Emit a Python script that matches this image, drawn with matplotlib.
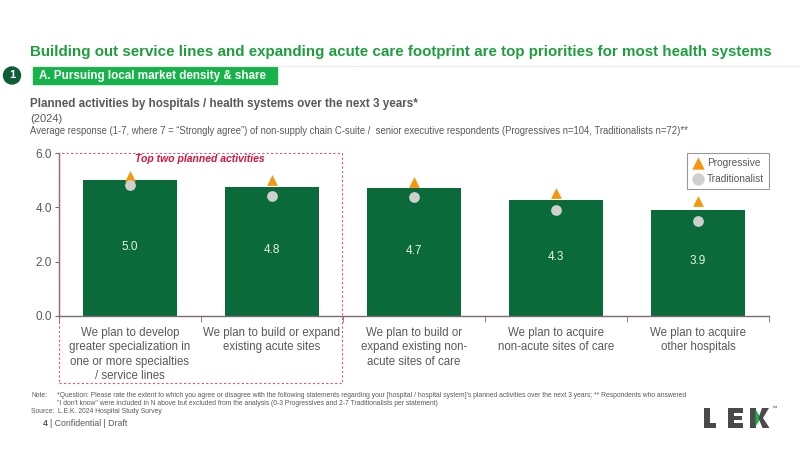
import matplotlib
matplotlib.use("Agg")
import matplotlib.pyplot as plt
from matplotlib.patches import Rectangle, Ellipse, Polygon
from matplotlib.lines import Line2D

plt.rcParams['font.family'] = ['Liberation Sans', 'DejaVu Sans']

categories = [
    "We plan to develop\ngreater specialization in\none or more specialties\n/ service lines",
    "We plan to build or expand\nexisting acute sites",
    "We plan to build or\nexpand existing non-\nacute sites of care",
    "We plan to acquire\nnon-acute sites of care",
    "We plan to acquire\nother hospitals",
]
overall = [5.01, 4.75, 4.70, 4.27, 3.92]
overall_labels = ["5.0", "4.8", "4.7", "4.3", "3.9"]
progressive = [5.17, 4.99, 4.93, 4.53, 4.23]
traditionalist = [4.83, 4.43, 4.38, 3.91, 3.51]
yticks = [0.0, 2.0, 4.0, 6.0]

W, H = 800, 450
fig = plt.figure(figsize=(8, 4.5), dpi=100)
fig.patch.set_facecolor("white")

def fx(px): return px / W
def fy(py): return 1 - py / H
def P(pts): return [(fx(a), fy(b)) for a, b in pts]

GREEN_BAR = "#0b6a3a"
TITLE_GREEN = "#1f9e3f"
GRAY = "#595959"
AXCOL = "#7a6a76"

# Title
fig.text(fx(30), fy(52), "Building out service lines and expanding acute care footprint are top priorities for most health systems",
         fontsize=10.9, fontweight="bold", color=TITLE_GREEN, va="center", ha="left")
fig.add_artist(Line2D([fx(30), fx(800)], [fy(66), fy(66)], color="#ececec", lw=0.8))

# Section marker
fig.add_artist(Ellipse((fx(12), fy(75.5)), width=17/W, height=17/H, transform=fig.transFigure, color="#0b5e35"))
fig.text(fx(12), fy(75.5), "1", color="white", fontsize=8, fontweight="bold", ha="center", va="center")
fig.add_artist(Rectangle((fx(33), fy(84)), (277-33)/W, 17/H, transform=fig.transFigure, color="#16b34a"))
fig.text(fx(39), fy(75.5), "A. Pursuing local market density & share", color="white", fontsize=8.4,
         fontweight="bold", ha="left", va="center")

# Subtitles
fig.text(fx(30), fy(104), "Planned activities by hospitals / health systems over the next 3 years*",
         fontsize=8.4, fontweight="bold", color=GRAY, va="center")
fig.text(fx(30), fy(119), "(2024)", fontsize=8, color=GRAY, va="center")
fig.text(fx(30), fy(131), "Average response (1-7, where 7 = \u201cStrongly agree\u201d) of non-supply chain C-suite /  senior executive respondents (Progressives n=104, Traditionalists n=72)**",
         fontsize=6.85, color=GRAY, va="center")

# Axes
ax = fig.add_axes([fx(59), fy(316), (769-59)/W, (316-153)/H])
x = list(range(len(categories)))
ax.bar(x, overall, width=0.66, color=GREEN_BAR, zorder=2)
for xi, v, lab in zip(x, overall, overall_labels):
    ax.text(xi, v / 2 + 0.05, lab, ha="center", va="center", color="#e6f5e6", fontsize=8.5, zorder=3)
ax.scatter(x, progressive, marker="^", s=60, color="#f5960f", zorder=4, label="Progressive", linewidths=0)
ax.scatter(x, traditionalist, marker="o", s=60, color="#cfcfcf", zorder=4, label="Traditionalist", linewidths=0)

ax.set_xlim(-0.5, len(categories) - 0.5)
ax.set_ylim(0, 6)
ax.set_yticks(yticks)
ax.set_yticklabels([f"{t:.1f}" for t in yticks], color=GRAY, fontsize=8.5)
ax.set_xticks(x)
ax.set_xticklabels(categories, color=GRAY, fontsize=8.3, linespacing=1.25, va="top")
ax.tick_params(axis="x", length=0, pad=8)
ax.set_xticks([i - 0.5 for i in range(len(categories) + 1)], minor=True)
ax.tick_params(axis="x", which="minor", length=4, color=AXCOL, direction="out")
ax.tick_params(axis="y", length=3, color=AXCOL, pad=2)
for s in ["top", "right"]:
    ax.spines[s].set_visible(False)
ax.spines["left"].set_color(AXCOL)
ax.spines["bottom"].set_color(AXCOL)
ax.spines["left"].set_linewidth(1.0)
ax.spines["bottom"].set_linewidth(1.0)

leg = ax.legend(loc="upper right", bbox_to_anchor=(1.0, 1.0), borderaxespad=0.0, frameon=True, fontsize=7.3,
                handletextpad=0.3, borderpad=0.5, labelspacing=0.55, handlelength=1.2, fancybox=False,
                labelcolor=GRAY, markerscale=1.15)
leg.get_frame().set_edgecolor("#808080")
leg.get_frame().set_linewidth(0.8)

# Highlight box
fig.add_artist(Rectangle((fx(59), fy(383)), (342-59)/W, (383-153)/H, transform=fig.transFigure,
                         fill=False, edgecolor="#e0557a", lw=0.8, linestyle=(0, (2, 2))))
fig.text(fx(200), fy(159), "Top two planned activities", color="#d4153f", fontsize=7.5,
         fontweight="bold", style="italic", ha="center", va="center")

# Notes
NS = 4.85
fig.text(fx(31), fy(395.5), "Note:", fontsize=NS, color=GRAY, va="center")
fig.text(fx(57), fy(395.5), "*Question: Please rate the extent to which you agree or disagree with the following statements regarding your [hospital / hospital system]'s planned activities over the next 3 years; ** Respondents who answered",
         fontsize=NS, color=GRAY, va="center")
fig.text(fx(57), fy(403.5), "\"I don't know\" were included in N above but excluded from the analysis (0-3 Progressives and 2-7 Traditionalists per statement)",
         fontsize=NS, color=GRAY, va="center")
fig.text(fx(31), fy(411.5), "Source:  L.E.K. 2024 Hospital Study Survey", fontsize=NS, color=GRAY, va="center")
fig.text(fx(43), fy(424), "4", fontsize=6.3, color=GRAY, va="center", fontweight="bold")
fig.text(fx(50), fy(424), "| Confidential | Draft", fontsize=6.3, color=GRAY, va="center")

# Logo (drawn as shapes)
LOGO = "#4a4a4a"
LG = "#1fb04b"
shapes = [
    # L
    ([(704, 408), (710, 408), (710, 423), (716, 423), (716, 428), (704, 428)], LOGO),
    # E
    ([(728, 408), (742.5, 408), (742.5, 412.8), (734, 412.8), (734, 415.6), (741.5, 415.6), (741.5, 420.4),
      (734, 420.4), (734, 423.2), (742.5, 423.2), (742.5, 428), (728, 428)], LOGO),
    # K stem
    ([(750, 408), (755.5, 408), (755.5, 428), (750, 428)], LOGO),
    # K green wedge
    ([(755.5, 409.5), (761, 418), (755.5, 426.5)], LG),
    # K upper arm
    ([(762, 408), (769, 408), (763, 418), (758.5, 418)], LOGO),
    # K lower arm
    ([(758.5, 418), (763, 418), (769.5, 428), (762.5, 428)], LOGO),
]
for pts, c in shapes:
    fig.add_artist(Polygon(P(pts), closed=True, transform=fig.transFigure, color=c, lw=0))
fig.text(fx(771), fy(408.5), "\u2122", fontsize=4, color=LOGO, va="center", ha="left")

fig.savefig("out.png", dpi=100, facecolor="white")
